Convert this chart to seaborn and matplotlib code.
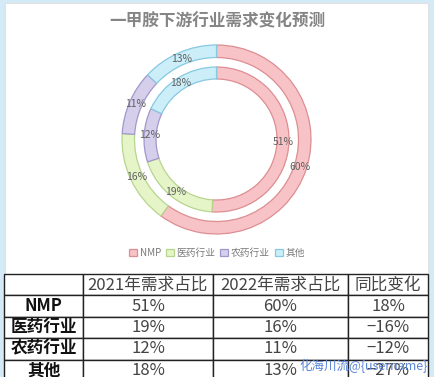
import matplotlib
matplotlib.use("Agg")
from matplotlib import pyplot as plt
from matplotlib.patches import Rectangle
import seaborn as sns

# data
categories = ["NMP", "医药行业", "农药行业", "其他"]
share_2021 = [51, 19, 12, 18]
share_2022 = [60, 16, 11, 13]
yoy_change = ["18%", "−16%", "−12%", "−27%"]
col_labels = ["2021年需求占比", "2022年需求占比", "同比变化"]
title = "一甲胺下游行业需求变化预测"
watermark = "化海川流@{username}"

fills = ["#f8c3c6", "#e6f5c8", "#d5cfec", "#cbeef9"]
edges = ["#dc8e92", "#b7d58e", "#a197ca", "#86c9e0"]

sns.set_theme(style="white")
plt.rcParams['font.family'] = ['Noto Sans CJK SC', 'DejaVu Sans']

W, H = 434, 377
fig = plt.figure(figsize=(W / 100, H / 100), dpi=100)
fig.patch.set_facecolor("#d4eaf6")

# white chart panel
fig.patches.append(Rectangle((5 / W, (H - 275) / H), 423 / W, 272 / H,
                             transform=fig.transFigure, facecolor="white",
                             edgecolor="#e2e2e2", lw=0.8, zorder=-5))

fig.text(217 / W, 1 - 21 / H, title, ha="center", va="center",
         fontsize=12, fontweight="bold", color="#858585")

# donut
cx, cy, R = 216.5, 139.5, 95
ax = fig.add_axes([(cx - R) / W, (H - cy - R) / H, 2 * R / W, 2 * R / H])
ax.set_zorder(2)

def ring(values, radius, width):
    mid = radius - width / 2
    wedges, texts, autotexts = ax.pie(
        values, radius=radius, startangle=90, counterclock=False,
        colors=fills, autopct=lambda p: f"{p:.0f}%", pctdistance=mid / radius,
        wedgeprops=dict(width=width, linewidth=0.9),
        textprops=dict(fontsize=7.5, color="#606060"))
    for w, ec in zip(wedges, edges):
        w.set_edgecolor(ec)
    return wedges

outer = ring(share_2022, 94.5 / R, 12.5 / R)
ring(share_2021, 72.5 / R, 12 / R)
ax.set_xlim(-1, 1)
ax.set_ylim(-1, 1)
ax.set_aspect("equal")
ax.axis("off")

fig.legend(outer, categories, loc="center", bbox_to_anchor=(0.5, 1 - 253 / H),
           ncol=4, frameon=False, fontsize=7, handlelength=0.8, handleheight=0.8,
           handletextpad=0.3, columnspacing=0.5, labelcolor="#7a7a7a")

# table
tax = fig.add_axes([0, 0, 1, 1])
tax.axis("off")
cell_text = [[""] + col_labels]
for c, a, b, d in zip(categories, share_2021, share_2022, yoy_change):
    cell_text.append([c, f"{a}%", f"{b}%", d])
col_w = [79 / W, 130 / W, 135 / W, 80 / W]
tbl = tax.table(cellText=cell_text, colWidths=col_w, cellLoc="center",
                bbox=[4 / W, -4 / H, 424 / W, 107 / H])
tbl.auto_set_font_size(False)
for (r, c), cell in tbl.get_celld().items():
    cell.set_edgecolor("#222222")
    cell.set_linewidth(1.0)
    cell.set_facecolor("white")
    txt = cell.get_text()
    txt.set_fontsize(12)
    txt.set_color("#444444")
    txt.set_fontweight("light")
    if c == 0:
        txt.set_fontweight("heavy")
        txt.set_color("#111111")

fig.text(364 / W, 1 - 366 / H, watermark, ha="center", va="center",
         fontsize=9, color="#5a86d8", zorder=10)

fig.savefig("out.png", dpi=100, facecolor=fig.get_facecolor())
